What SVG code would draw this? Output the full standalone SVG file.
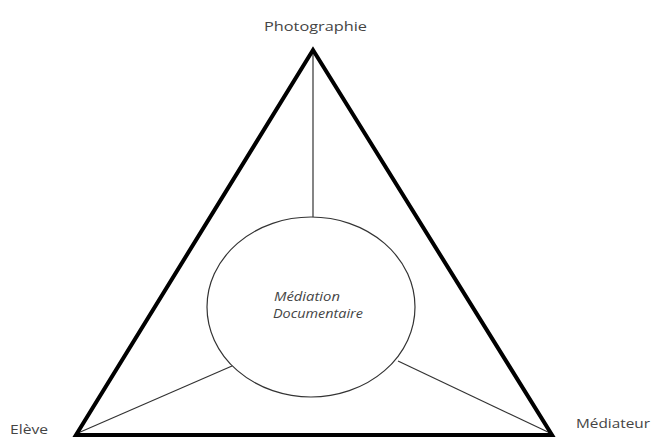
<svg xmlns="http://www.w3.org/2000/svg" width="657" height="439" viewBox="0 0 657 439">
<style>
.lbl{font-family:"Open Sans","Liberation Sans",sans-serif;font-size:13px;fill:#444}
.it{font-family:"Open Sans","Liberation Sans",sans-serif;font-size:12px;font-style:italic;fill:#444}
.thin{stroke:#333;stroke-width:1.2;fill:none}
</style>
<rect width="657" height="439" fill="#fff"/>
<g id="connectors">
<line class="thin" x1="313" y1="52" x2="313" y2="217"/>
<line class="thin" x1="78" y1="433" x2="232" y2="366"/>
<line class="thin" x1="398" y1="361" x2="550" y2="433"/>
</g>
<g id="triangle">
<polygon points="313,50 76,435 552,435" fill="none" stroke="#000" stroke-width="4" stroke-linejoin="miter"/>
</g>
<g id="mediation">
<ellipse cx="311" cy="307" rx="104" ry="90" fill="#fff" stroke="#333" stroke-width="1.2"/>
<text class="it" x="274" y="301" textLength="66" lengthAdjust="spacingAndGlyphs">Médiation</text>
<text class="it" x="273" y="318" textLength="90" lengthAdjust="spacingAndGlyphs">Documentaire</text>
</g>
<g id="photographie"><text class="lbl" x="264" y="31" textLength="103" lengthAdjust="spacingAndGlyphs">Photographie</text></g>
<g id="eleve"><text class="lbl" x="10" y="434" textLength="38" lengthAdjust="spacingAndGlyphs">Elève</text></g>
<g id="mediateur"><text class="lbl" x="576" y="428" textLength="74" lengthAdjust="spacingAndGlyphs">Médiateur</text></g>
</svg>
